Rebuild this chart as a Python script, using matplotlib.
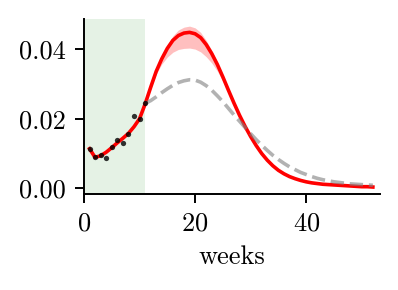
import matplotlib
matplotlib.use("Agg")
import matplotlib.pyplot as plt

plt.rcParams["font.family"] = "serif"
plt.rcParams["font.serif"] = ["cmr10"]
plt.rcParams["mathtext.fontset"] = "cm"
plt.rcParams["axes.formatter.use_mathtext"] = True

# observed weekly data (fitting window)
obs_weeks = [1, 2, 3, 4, 5, 6, 7, 8, 9, 10, 11]
obs_vals = [0.0114, 0.0089, 0.0097, 0.0087, 0.0120, 0.0138, 0.0131, 0.0155, 0.0207, 0.0198, 0.0245]

# model fit (red) with band
fit_weeks = list(range(1, 53))
fit_vals = [0.0114, 0.0089, 0.0094, 0.0104, 0.0117, 0.0131, 0.0144, 0.0158, 0.0177, 0.0200, 0.0242,
            0.0290, 0.0336, 0.0372, 0.0402, 0.0425, 0.0439, 0.0446, 0.0448, 0.0444, 0.0433, 0.0413,
            0.0387, 0.0356, 0.0320, 0.0282, 0.0245, 0.0210, 0.0178, 0.0149, 0.0123, 0.0100, 0.0081,
            0.0065, 0.0052, 0.0042, 0.0034, 0.0028, 0.0023, 0.0019, 0.0016, 0.0014, 0.0012, 0.0011,
            0.0010, 0.0009, 0.0008, 0.0007, 0.0006, 0.0005, 0.0005, 0.0004]
fit_upper = [0.0115, 0.0090, 0.0095, 0.0105, 0.0118, 0.0132, 0.0145, 0.0159, 0.0178, 0.0201, 0.0243,
             0.0292, 0.0340, 0.0379, 0.0412, 0.0438, 0.0455, 0.0463, 0.0466, 0.0461, 0.0448, 0.0425,
             0.0396, 0.0362, 0.0324, 0.0284, 0.0246, 0.0211, 0.0179, 0.0150, 0.0124, 0.0101, 0.0082,
             0.0066, 0.0053, 0.0043, 0.0035, 0.0029, 0.0024, 0.0020, 0.0017, 0.0015, 0.0013, 0.0012,
             0.0011, 0.0010, 0.0009, 0.0008, 0.0007, 0.0006, 0.0006, 0.0005]
fit_lower = [0.0113, 0.0088, 0.0093, 0.0103, 0.0116, 0.0130, 0.0143, 0.0157, 0.0176, 0.0199, 0.0240,
             0.0287, 0.0328, 0.0357, 0.0377, 0.0391, 0.0399, 0.0402, 0.0403, 0.0400, 0.0392, 0.0378,
             0.0360, 0.0337, 0.0308, 0.0275, 0.0241, 0.0208, 0.0177, 0.0148, 0.0122, 0.0099, 0.0080,
             0.0064, 0.0051, 0.0041, 0.0033, 0.0027, 0.0022, 0.0018, 0.0015, 0.0013, 0.0011, 0.0010,
             0.0009, 0.0008, 0.0007, 0.0006, 0.0005, 0.0004, 0.0004, 0.0003]

# comparison scenario (gray dashed)
alt_weeks = list(range(11, 53))
alt_vals = [0.0244, 0.0252, 0.0263, 0.0275, 0.0286, 0.0296, 0.0304, 0.0309, 0.0312, 0.0311, 0.0305,
            0.0295, 0.0282, 0.0266, 0.0249, 0.0230, 0.0211, 0.0193, 0.0175, 0.0157, 0.0140, 0.0124,
            0.0109, 0.0095, 0.0083, 0.0072, 0.0062, 0.0054, 0.0046, 0.0040, 0.0034, 0.0029, 0.0025,
            0.0022, 0.0019, 0.0017, 0.0015, 0.0013, 0.0012, 0.0011, 0.0010, 0.0009]

fit_end = 11

fig = plt.figure(figsize=(3.98, 2.90), dpi=100)
ax = fig.add_axes([0.211, 0.331, 0.744, 0.603])

ax.axvspan(0, fit_end, color="green", alpha=0.1, lw=0, zorder=0)
ax.fill_between(fit_weeks, fit_lower, fit_upper, color="red", alpha=0.25, lw=0, zorder=1)
ax.plot(fit_weeks, fit_vals, color="red", lw=2.6, zorder=2)
ax.plot(alt_weeks, alt_vals, color="gray", alpha=0.6, lw=2.6, ls="--", zorder=3)
ax.plot(obs_weeks, obs_vals, "o", color="k", ms=3.8, alpha=0.8, mec="none", zorder=4)

ax.set_xlim(0, 53.3)
ax.set_ylim(-0.0016, 0.0486)
ax.set_xticks([0, 20, 40])
ax.set_yticks([0.0, 0.02, 0.04])
ax.set_yticklabels(["0.00", "0.02", "0.04"])
ax.set_xlabel("weeks", fontsize=19, labelpad=7)
ax.tick_params(labelsize=19, length=6.5, width=1.4)
ax.tick_params(axis="x", pad=6)
ax.tick_params(axis="y", pad=6.5)
for s in ["top", "right"]:
    ax.spines[s].set_visible(False)
for s in ["left", "bottom"]:
    ax.spines[s].set_linewidth(1.4)

fig.savefig("out.png", dpi=100)
